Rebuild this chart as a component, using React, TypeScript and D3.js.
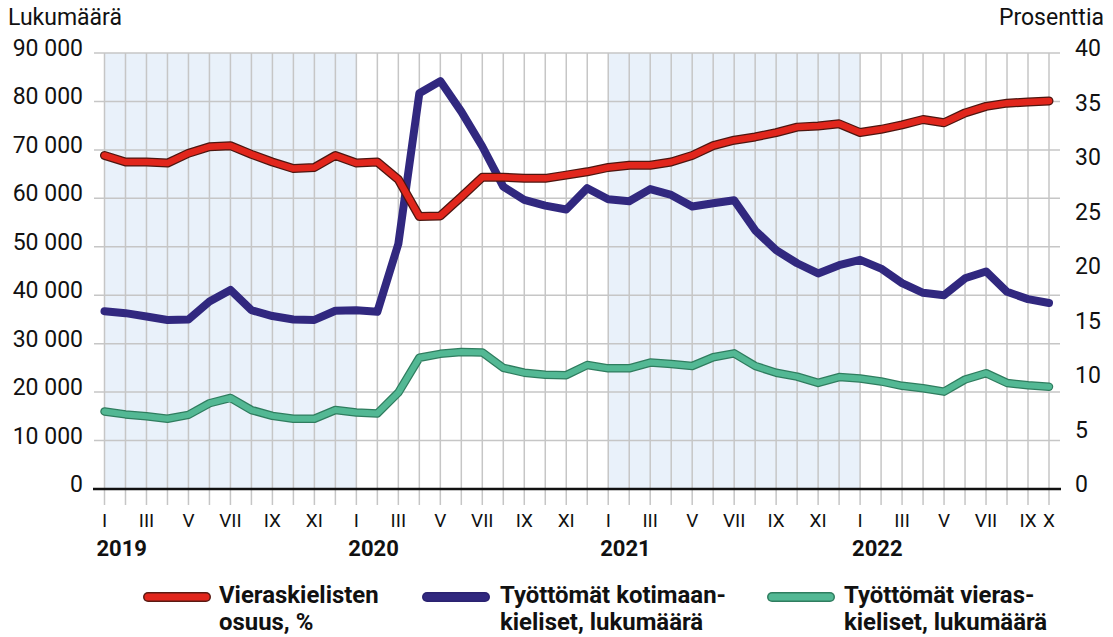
import React from "react";
import * as d3 from "d3";

const months = ["I","II","III","IV","V","VI","VII","VIII","IX","X","XI","XII"];
const years = ["2019","2020","2021","2022"];
const nMonths = 46;

const shareForeign = [
  30.6, 30.0, 30.0, 29.9, 30.8, 31.4, 31.5, 30.7, 30.0, 29.4, 29.5, 30.6,
  29.9, 30.0, 28.4, 25.0, 25.05, 26.8, 28.6, 28.6, 28.5, 28.5, 28.8, 29.1,
  29.5, 29.7, 29.7, 30.0, 30.6, 31.5, 32.0, 32.3, 32.7, 33.2, 33.3, 33.5,
  32.7, 33.0, 33.4, 33.9, 33.6, 34.5, 35.1, 35.4, 35.5, 35.6,
];

const unemployedDomestic = [
  36700, 36300, 35600, 34900, 35000, 38700, 41100, 36900, 35700, 35000, 34900, 36800,
  36900, 36600, 50600, 81700, 84200, 77900, 70700, 62400, 59700, 58500, 57700, 62100,
  59800, 59400, 61900, 60700, 58300, 59000, 59600, 53400, 49300, 46600, 44500, 46200,
  47300, 45500, 42500, 40500, 40000, 43500, 44900, 40700, 39200, 38400,
];

const unemployedForeign = [
  16000, 15400, 15000, 14500, 15300, 17700, 18800, 16300, 15100, 14500, 14500, 16300,
  15800, 15600, 19900, 27100, 27900, 28300, 28200, 25000, 24000, 23600, 23500, 25600,
  24900, 24900, 26100, 25800, 25400, 27200, 28000, 25400, 24000, 23200, 21900, 23100,
  22800, 22200, 21300, 20800, 20100, 22600, 23900, 21900, 21400, 21100,
];

const leftTicks = [0, 10000, 20000, 30000, 40000, 50000, 60000, 70000, 80000, 90000];
const rightTicks = [0, 5, 10, 15, 20, 25, 30, 35, 40];
const shadedYears = [0, 2]; // 2019 and 2021

const legendItems = [
  { lines: ["Vieraskielisten", "osuus, %"], color: "#e1261c", outline: "#5a1a12" },
  { lines: ["Työttömät kotimaan-", "kieliset, lukumäärä"], color: "#31287f", outline: "#2a2270" },
  { lines: ["Työttömät vieras-", "kieliset, lukumäärä"], color: "#53b894", outline: "#2f7d5f" },
];

const fmt = (v: number) => d3.format(",")(v).replace(/,/g, " ");

export default function App() {
  const W = 1113, H = 637;
  const x = d3.scaleLinear().domain([0, nMonths - 1]).range([104.5, 1049]);
  const y = d3.scaleLinear().domain([0, 90000]).range([489, 53]);
  const yR = d3.scaleLinear().domain([0, 40]).range([489, 53]);
  const idx = d3.range(nMonths);

  const lineL = d3.line<number>().x((_, i) => x(i)).y((d) => y(d));
  const lineR = d3.line<number>().x((_, i) => x(i)).y((d) => yR(d));

  const font = "Roboto, 'Noto Sans', sans-serif";
  const gridColor = "#c6c6c6";

  const monthLabel = (i: number) => {
    const m = i % 12;
    if (i === nMonths - 1) return months[m];
    if (m % 2 === 0) return months[m];
    return null;
  };

  return (
    <svg width={W} height={H} style={{ position: "absolute", left: 0, top: 0, background: "#fff" }} fontFamily={font}>
      {shadedYears.map((yi) => (
        <rect key={yi} x={x(yi * 12)} y={y(90000)} width={x(yi * 12 + 12) - x(yi * 12)} height={y(0) - y(90000)} fill="#e9f1fa" />
      ))}
      {leftTicks.filter((t) => t > 0).map((t) => (
        <line key={t} x1={94} x2={1060} y1={y(t)} y2={y(t)} stroke={gridColor} strokeWidth={1.5} />
      ))}
      {idx.map((i) => (
        <line key={i} x1={x(i)} x2={x(i)} y1={y(90000)} y2={505} stroke={gridColor} strokeWidth={1.5} />
      ))}
      <line x1={93} x2={1061} y1={y(0)} y2={y(0)} stroke="#111" strokeWidth={2.5} />

      {leftTicks.map((t) => (
        <text key={t} x={83} y={y(t) + 3} textAnchor="end" fontSize={23} fill="#111">{fmt(t)}</text>
      ))}
      {rightTicks.map((t) => (
        <text key={t} x={1075} y={yR(t) + 3} textAnchor="start" fontSize={23} fill="#111">{t}</text>
      ))}
      <text x={8} y={25} fontSize={23} fill="#111">Lukumäärä</text>
      <text x={1104} y={25} fontSize={23} textAnchor="end" fill="#111">Prosenttia</text>

      {idx.map((i) => {
        const l = monthLabel(i);
        return l ? (
          <text key={i} x={x(i)} y={527} textAnchor="middle" fontSize={19} fill="#111">{l}</text>
        ) : null;
      })}
      {years.map((yr, k) => (
        <text key={yr} x={x(k * 12) - 8} y={556} fontSize={22} fontWeight="bold" fill="#111">{yr}</text>
      ))}

      <path d={lineL(unemployedForeign) || ""} fill="none" stroke="#2f7d5f" strokeWidth={8.5} strokeLinejoin="round" strokeLinecap="round" />
      <path d={lineL(unemployedForeign) || ""} fill="none" stroke="#53b894" strokeWidth={6} strokeLinejoin="round" strokeLinecap="round" />
      <path d={lineL(unemployedDomestic) || ""} fill="none" stroke="#31287f" strokeWidth={8} strokeLinejoin="round" strokeLinecap="round" />
      <path d={lineR(shareForeign) || ""} fill="none" stroke="#4d1610" strokeWidth={9} strokeLinejoin="round" strokeLinecap="round" />
      <path d={lineR(shareForeign) || ""} fill="none" stroke="#e1261c" strokeWidth={6.5} strokeLinejoin="round" strokeLinecap="round" />

      {legendItems.map((it, k) => {
        const sx = [148, 427, 772][k];
        const tx = [219, 500, 844][k];
        return (
          <g key={k}>
            <line x1={sx} x2={sx + 58} y1={597} y2={597} stroke={it.outline} strokeWidth={10} strokeLinecap="round" />
            <line x1={sx} x2={sx + 58} y1={597} y2={597} stroke={it.color} strokeWidth={7} strokeLinecap="round" />
            {it.lines.map((ln, j) => (
              <text key={j} transform={`translate(${tx},${603 + j * 27}) scale(1.04,1)`} fontSize={23} fontWeight="bold" fill="#111">{ln}</text>
            ))}
          </g>
        );
      })}
    </svg>
  );
}
